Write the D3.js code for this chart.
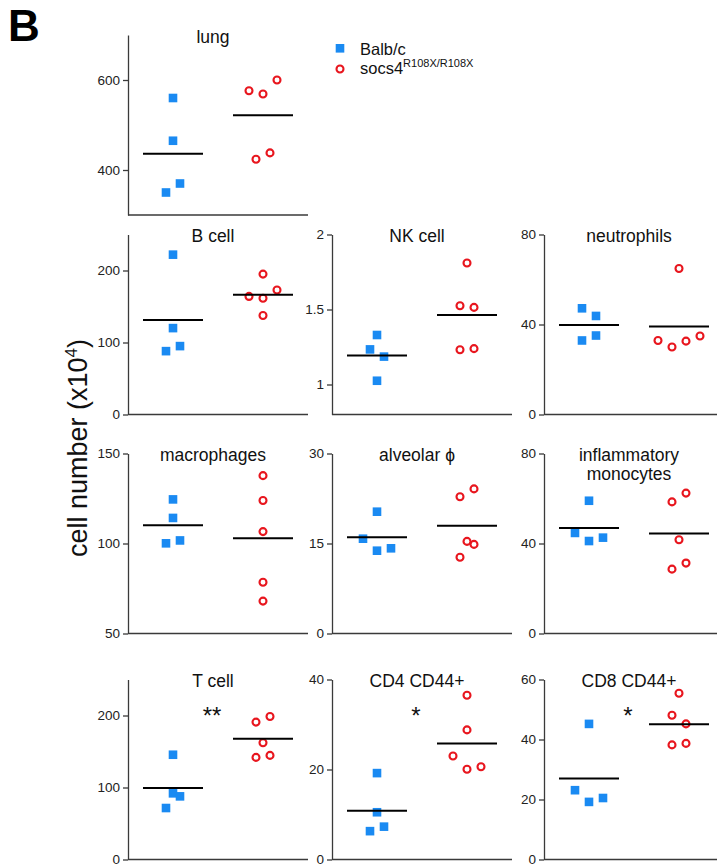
<!DOCTYPE html>
<html>
<head>
<meta charset="utf-8">
<script src="https://cdnjs.cloudflare.com/ajax/libs/d3/7.8.5/d3.min.js"></script>
<style>
    body { margin: 0; background: #fff; }
    text { font-family: "Liberation Sans", Arial, Helvetica, sans-serif; }
</style>
</head>
<body>
<div id="app"></div>
<script>
// groups and panels
const groups = ['Balb/c', 'socs4'];
const panelNames = ['lung', 'B cell', 'NK cell', 'neutrophils', 'macrophages', 'alveolar \u03d5',
    'inflammatory\nmonocytes', 'T cell', 'CD4 CD44+', 'CD8 CD44+'];

// y domains and tick labels of each panel
const yDomains = [[300, 700], [0, 250], [0.8, 2], [0, 80], [50, 150], [0, 30], [0, 80], [0, 250], [0, 40], [0, 60]];
const yTicks = [[400, 600], [0, 100, 200], [1, 1.5, 2], [0, 40, 80], [50, 100, 150], [0, 15, 30],
    [0, 40, 80], [0, 100, 200], [0, 20, 40], [0, 20, 40, 60]];

// cell numbers (x10^4) per mouse
const balbValues = [
    [560, 465, 350, 370],
    [222, 120, 88, 95],
    [1.33, 1.234, 1.186, 1.025],
    [47.2, 43.8, 32.9, 35.1],
    [124.5, 114.2, 100.1, 101.7],
    [20.3, 15.8, 13.8, 14.2],
    [59, 44.7, 41.1, 42.6],
    [145.5, 71.5, 91.9, 87.7],
    [19.2, 10.5, 6.3, 7.3],
    [45.2, 23.1, 19.2, 20.5]
];
const socsValues = [
    [576, 569, 600, 424, 438],
    [195, 164, 161.5, 173, 137.5],
    [1.81, 1.525, 1.514, 1.232, 1.239],
    [64.9, 32.9, 30, 32.6, 34.9],
    [137.7, 123.9, 106.6, 78.5, 68],
    [22.8, 24.1, 12.7, 15.35, 14.85],
    [58.5, 62.4, 41.7, 28.6, 31.3],
    [190.8, 198.6, 141.8, 162.2, 144.6],
    [36.5, 28.8, 23.0, 20.07, 20.6],
    [55.4, 48.1, 45.2, 38.2, 38.7]
];
const significance = ['', '', '', '', '', '', '', '**', '*', '*'];

let width = 717, height = 866;
let panelW = 180, panelH = 180;
let colX = [128, 332, 544], rowY = [35, 234.5, 453.5, 679.5];
let cells = [[0, 0], [1, 0], [1, 1], [1, 2], [2, 0], [2, 1], [2, 2], [3, 0], [3, 1], [3, 2]];
const blue = '#1a8af2', red = '#e8161e', axisColor = '#3a3a3a';

let svg = d3.select('#app').append('svg').attr('width', width).attr('height', height);

const x = d3.scalePoint().domain(groups).range([0, panelW]).padding(0.5);

// prism style spreading of points that sit on top of each other
function spread(values, y) {
    const idx = values.map((v, i) => i).sort((a, b) => values[b] - values[a]);
    const offsets = values.map(() => 0);
    let clusters = [], cur = [idx[0]];
    for (let k = 1; k < idx.length; k++) {
        if (Math.abs(y(values[idx[k]]) - y(values[idx[k - 1]])) < 13.5) cur.push(idx[k]);
        else { clusters.push(cur); cur = [idx[k]]; }
    }
    clusters.push(cur);
    clusters.forEach(c => {
        let maxGap = 0;
        for (let k = 1; k < c.length; k++) maxGap = Math.max(maxGap, Math.abs(y(values[c[k]]) - y(values[c[k - 1]])));
        const step = maxGap < 11.05 ? 14 : 7;
        const order = c.slice().sort((a, b) => a - b);
        order.forEach((i, j) => { offsets[i] = (j - (order.length - 1) / 2) * step; });
    });
    return offsets;
}

panelNames.forEach((name, p) => {
    const g = svg.append('g').attr('transform', `translate(${colX[cells[p][1]]},${rowY[cells[p][0]]})`);
    const y = d3.scaleLinear().domain(yDomains[p]).range([panelH, 0]);

    const yAxis = g.append('g').call(d3.axisLeft(y).tickValues(yTicks[p]).tickFormat(d => d)
        .tickSize(5).tickPadding(3).tickSizeOuter(0));
    yAxis.select('.domain').attr('stroke', axisColor).attr('stroke-width', 1.3);
    yAxis.selectAll('.tick line').attr('stroke', axisColor).attr('stroke-width', 1.3);
    yAxis.selectAll('.tick text').attr('fill', '#222').style('font-size', '13.5px');

    g.append('line')
        .attr('x1', 0).attr('x2', panelW)
        .attr('y1', panelH).attr('y2', panelH)
        .attr('stroke', axisColor).attr('stroke-width', 1.3);

    const lines = name.split('\n');
    g.append('text')
        .attr('text-anchor', 'middle')
        .style('font-size', '17.5px')
        .attr('fill', '#111')
        .selectAll('tspan').data(lines)
        .enter().append('tspan')
        .attr('x', panelW / 2 - 5)
        .attr('y', (d, i) => 7.5 + i * 18.5)
        .text(d => d);

    const balb = balbValues[p], socs = socsValues[p];
    const balbOff = spread(balb, y), socsOff = spread(socs, y);

    g.selectAll('.balb').data(balb)
        .enter().append('rect').classed('balb', true)
        .attr('x', (d, i) => x(groups[0]) + balbOff[i] - 4.3)
        .attr('y', d => y(d) - 4.3)
        .attr('width', 8.6).attr('height', 8.6)
        .attr('fill', blue);

    g.selectAll('.socs').data(socs)
        .enter().append('circle').classed('socs', true)
        .attr('cx', (d, i) => x(groups[1]) + socsOff[i])
        .attr('cy', d => y(d))
        .attr('r', 3.5)
        .attr('fill', 'none')
        .attr('stroke', red)
        .attr('stroke-width', 2.1);

    [balb, socs].forEach((vals, k) => {
        const m = d3.mean(vals);
        g.append('line')
            .attr('x1', x(groups[k]) - 30).attr('x2', x(groups[k]) + 30)
            .attr('y1', y(m)).attr('y2', y(m))
            .attr('stroke', '#000').attr('stroke-width', 2);
    });

    if (significance[p]) {
        g.append('text')
            .attr('x', 84).attr('y', 44)
            .attr('text-anchor', 'middle')
            .style('font-size', '24px')
            .attr('fill', '#111')
            .text(significance[p]);
    }
});

// panel letter
svg.append('text').attr('x', 8).attr('y', 41)
    .style('font-size', '44px').style('font-weight', 'bold')
    .text('B');

// y label
const yl = svg.append('text')
    .attr('transform', 'translate(87,448) rotate(-90)')
    .attr('text-anchor', 'middle')
    .style('font-size', '27px')
    .attr('fill', '#111');
yl.append('tspan').text('cell number (x10');
yl.append('tspan').attr('dy', -10).style('font-size', '17px').text('4');
yl.append('tspan').attr('dy', 10).text(')');

// legend
const legend = svg.append('g').attr('transform', 'translate(340,0)');
legend.append('rect').attr('x', -4.3).attr('y', 48.3 - 4.3).attr('width', 8.6).attr('height', 8.6).attr('fill', blue);
legend.append('circle').attr('cx', 0).attr('cy', 69).attr('r', 3.5)
    .attr('fill', 'none').attr('stroke', red).attr('stroke-width', 2.1);
legend.append('text').attr('x', 20).attr('y', 55).style('font-size', '16.5px').attr('fill', '#111').text(groups[0]);
const lt = legend.append('text').attr('x', 20).attr('y', 73.5).style('font-size', '16.5px').attr('fill', '#111');
lt.append('tspan').text(groups[1]);
lt.append('tspan').attr('dy', -6.5).style('font-size', '11px').text('R108X/R108X');
</script>
</body>
</html>
